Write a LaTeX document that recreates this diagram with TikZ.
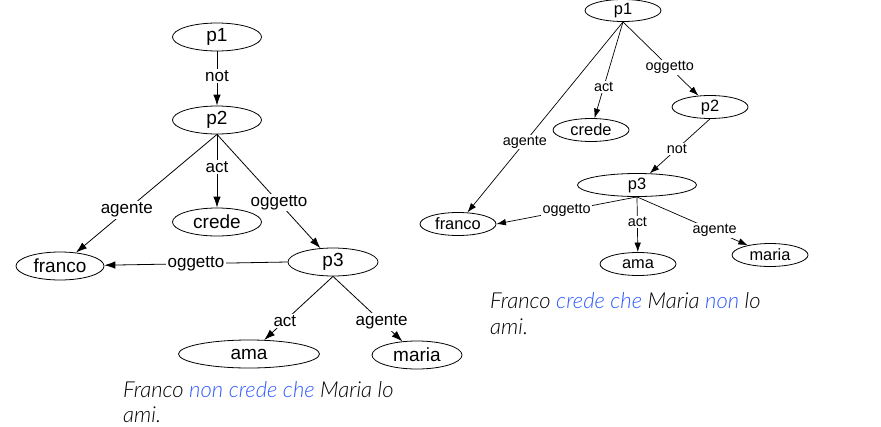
\documentclass[tikz,border=0pt]{standalone}
\usepackage{fontspec}
\setmainfont{Liberation Sans}
\IfFontExistsTF{Lato Light Italic}
    {\newfontfamily\capfont{Lato Light}[ItalicFont={Lato Light Italic}]}
    {\newfontfamily\capfont{Lato}}
\usetikzlibrary{shapes.geometric,arrows.meta}

\begin{document}
\begin{tikzpicture}[x=1pt,y=-1pt,
    bignode/.style={ellipse, draw=black, line width=0.8pt, inner sep=0pt,
        minimum width=89, minimum height=28, font=\fontsize{19}{19}\selectfont},
    smallnode/.style={ellipse, draw=black, line width=0.8pt, inner sep=0pt,
        minimum width=76, minimum height=23, font=\fontsize{16.4}{16.4}\selectfont},
    biglink/.style={draw=black, line width=0.8pt, -{Latex[length=11pt,width=7.5pt]}},
    smalllink/.style={draw=black, line width=0.7pt, -{Latex[length=9.5pt,width=6.5pt]}},
    biglabel/.style={fill=white, inner sep=1.5pt, font=\fontsize{17}{17}\selectfont},
    smalllabel/.style={fill=white, inner sep=1.2pt, font=\fontsize{14.4}{14.4}\selectfont},
    caption/.style={anchor=base west, inner sep=0pt, font=\capfont\itshape\fontsize{22}{25}\selectfont}
]
    % Define custom colors
    \definecolor{capblue}{HTML}{2F5BFF}

    \useasboundingbox (0,0) rectangle (881,426);

    % Left graph: Franco non crede che Maria lo ami
    \node[bignode] (lp1) at (217,37) {p1};
    \node[bignode] (lp2) at (217,120) {p2};
    \node[bignode] (lcrede) at (217,222) {crede};
    \node[bignode, minimum width=88] (lfranco) at (60,266) {franco};
    \node[bignode, minimum width=90] (lp3) at (333,262) {p3};
    \node[bignode, minimum width=141] (lama) at (249,354) {ama};
    \node[bignode, minimum width=90] (lmaria) at (417,355) {maria};

    \draw[biglink] (lp1.south) -- node[biglabel, pos=0.45] {not} (lp2);
    \draw[biglink] (lp2.south) -- node[biglabel, pos=0.64] {agente} (lfranco);
    \draw[biglink] (lp2.south) -- node[biglabel, pos=0.45] {act} (lcrede);
    \draw[biglink] (lp2.south) -- node[biglabel, pos=0.6] {oggetto} (lp3);
    \draw[biglink] (lp3.west) -- node[biglabel, pos=0.5] {oggetto} (lfranco);
    \draw[biglink] (lp3.south) -- node[biglabel, pos=0.7] {act} (lama);
    \draw[biglink] (lp3.south) -- node[biglabel, pos=0.7] {agente} (lmaria);

    \node[caption] (lcap1) at (123,397) {Franco \textcolor{capblue}{non crede che} Maria lo};
    \node[caption] (lcap2) at (123,422) {ami.};

    % Right graph: Franco crede che Maria non lo ami
    \node[smallnode, minimum height=22] (rp1) at (623,10.5) {p1};
    \node[smallnode] (rcrede) at (591,130) {crede};
    \node[smallnode] (rp2) at (710,107) {p2};
    \node[smallnode, minimum width=119] (rp3) at (637,185) {p3};
    \node[smallnode] (rfranco) at (458,224) {franco};
    \node[smallnode] (rama) at (638,264) {ama};
    \node[smallnode] (rmaria) at (770,255) {maria};

    \draw[smalllink] (rp1.south) -- node[smalllabel, pos=0.63] {agente} (rfranco);
    \draw[smalllink] (rp1.south) -- node[smalllabel, pos=0.68] {act} (rcrede);
    \draw[smalllink] (rp1.south) -- node[smalllabel, pos=0.62] {oggetto} (rp2);
    \draw[smalllink] (rp2.south) -- node[smalllabel, pos=0.55] {not} (rp3);
    \draw[smalllink] (rp3.south) -- node[smalllabel, pos=0.5] {oggetto} (rfranco.east);
    \draw[smalllink] (rp3.south) -- node[smalllabel, pos=0.45] {act} (rama);
    \draw[smalllink] (rp3.south) -- node[smalllabel, pos=0.7] {agente} (rmaria);

    \node[caption] (rcap1) at (490,308) {Franco \textcolor{capblue}{crede che} Maria \textcolor{capblue}{non} lo};
    \node[caption] (rcap2) at (490,334) {ami.};

\end{tikzpicture}
\end{document}
